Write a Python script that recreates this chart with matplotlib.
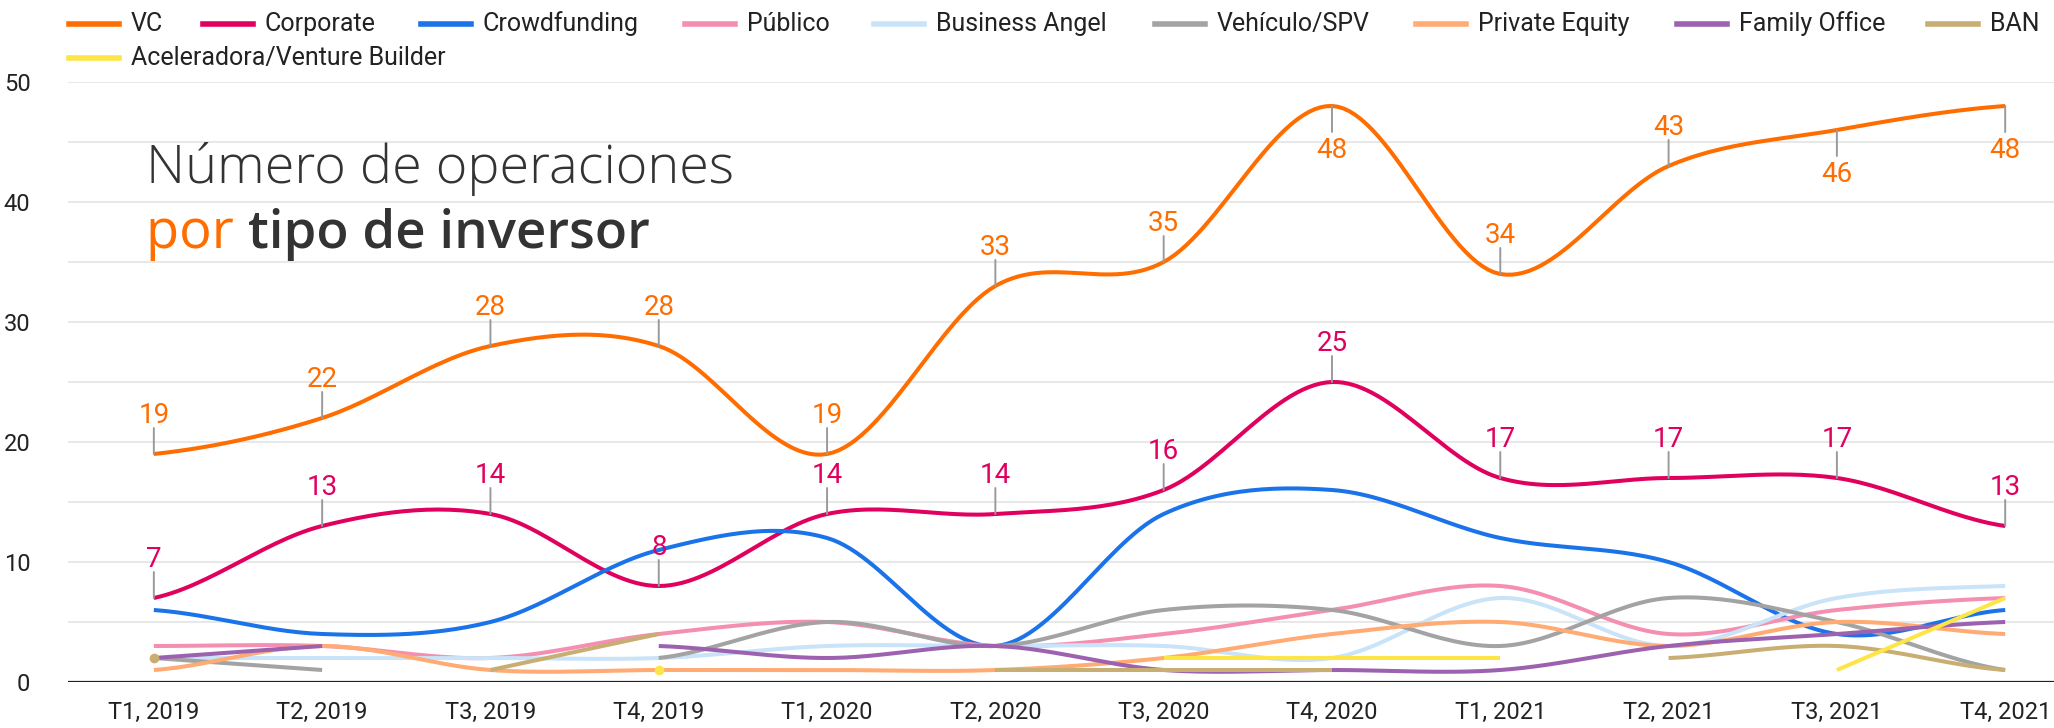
import matplotlib
matplotlib.use('Agg')
import matplotlib.pyplot as plt
from matplotlib.lines import Line2D
import numpy as np

nan = np.nan

quarters = ['T1, 2019', 'T2, 2019', 'T3, 2019', 'T4, 2019',
            'T1, 2020', 'T2, 2020', 'T3, 2020', 'T4, 2020',
            'T1, 2021', 'T2, 2021', 'T3, 2021', 'T4, 2021']

vc = [19, 22, 28, 28, 19, 33, 35, 48, 34, 43, 46, 48]
corporate = [7, 13, 14, 8, 14, 14, 16, 25, 17, 17, 17, 13]
crowdfunding = [6, 4, 5, 11, 12, 3, 14, 16, 12, 10, 4, 6]
publico = [3, 3, 2, 4, 5, 3, 4, 6, 8, 4, 6, 7]
business_angel = [2, 2, 2, 2, 3, 3, 3, 2, 7, 3, 7, 8]
vehiculo = [2, 1, nan, 2, 5, 3, 6, 6, 3, 7, 5, 1]
private_equity = [1, 3, 1, 1, 1, 1, 2, 4, 5, 3, 5, 4]
family_office = [2, 3, nan, 3, 2, 3, 1, 1, 1, 3, 4, 5]
ban = [2, nan, 1, 4, nan, 1, 1, 1, nan, 2, 3, 1]
aceleradora = [nan, nan, nan, 1, nan, nan, 2, 2, 2, nan, 1, 7]

names = ['VC', 'Corporate', 'Crowdfunding', 'Público', 'Business Angel',
         'Vehículo/SPV', 'Private Equity', 'Family Office', 'BAN',
         'Aceleradora/Venture Builder']
colors = ['#ff6d00', '#e0005e', '#1a73e8', '#f48fb1', '#c9e3f8',
          '#a3a3a3', '#ffab73', '#9c62b0', '#c9ae74', '#fde547']
values = [vc, corporate, crowdfunding, publico, business_angel,
          vehiculo, private_equity, family_office, ban, aceleradora]
labelled = ['VC', 'Corporate']

W, H = 2054, 728
FONT = 'Roboto'
plt.rcParams['font.family'] = [FONT, 'DejaVu Sans']


def smooth(xs, ys, n=30):
    # curva tipo Catmull-Rom entre puntos consecutivos
    xs = np.asarray(xs, float)
    ys = np.asarray(ys, float)
    m = len(ys)
    t = np.zeros(m)
    for i in range(m):
        if i == 0:
            t[i] = (ys[1] - ys[0]) / 2
        elif i == m - 1:
            t[i] = (ys[-1] - ys[-2]) / 2
        else:
            t[i] = (ys[i + 1] - ys[i - 1]) / 2
    ox, oy = [], []
    for i in range(m - 1):
        s = np.linspace(0, 1, n)
        h00 = 2 * s**3 - 3 * s**2 + 1
        h10 = s**3 - 2 * s**2 + s
        h01 = -2 * s**3 + 3 * s**2
        h11 = s**3 - s**2
        oy.extend(h00 * ys[i] + h10 * t[i] + h01 * ys[i + 1] + h11 * t[i + 1])
        ox.extend(xs[i] + s * (xs[i + 1] - xs[i]))
    return ox, oy


def segments(ys):
    segs, cur = [], []
    for i, v in enumerate(ys):
        if np.isnan(v):
            if cur:
                segs.append(cur)
            cur = []
        else:
            cur.append(i)
    if cur:
        segs.append(cur)
    return segs


fig = plt.figure(figsize=(W / 100, H / 100), dpi=100)
left, right, y0, y50 = 68, 2054, 682, 82
ax = fig.add_axes([left / W, (H - y0) / H, (right - left) / W, (y0 - y50) / H])
ax.set_xlim(-0.51, 11.29)
ax.set_ylim(0, 50)

for v in range(5, 50, 5):
    ax.axhline(v, color='#e8e8e8', lw=1.5, zorder=0)
ax.axhline(50, color='#e8e8e8', lw=1.5, zorder=0)
ax.axhline(0, color='#222222', lw=1.6, zorder=5)

for name, ys, c in zip(names, values, colors):
    ys = np.array(ys, float)
    for seg in segments(ys):
        if len(seg) == 1:
            ax.plot(seg, ys[seg], 'o', color=c, ms=6, zorder=3)
        elif len(seg) == 2:
            ax.plot(seg, ys[seg], color=c, lw=2.9, zorder=3,
                    solid_capstyle='butt')
        else:
            sx, sy = smooth(seg, ys[seg])
            ax.plot(sx, sy, color=c, lw=2.9, zorder=3, solid_capstyle='butt')
    if name in labelled:
        for i, v in enumerate(ys):
            below = v >= 45
            d = -1 if below else 1
            ax.annotate('', xy=(i, v), xytext=(0, d * 26 * 0.72),
                        textcoords='offset points',
                        arrowprops=dict(arrowstyle='-', color='#9a9a9a',
                                        lw=1.4, shrinkA=0, shrinkB=0),
                        zorder=4)
            ax.annotate(str(int(v)), xy=(i, v), xytext=(0, d * 31 * 0.72),
                        textcoords='offset points', ha='center',
                        va='top' if below else 'baseline',
                        color=c, fontsize=20, zorder=6)

for s in ax.spines.values():
    s.set_visible(False)
ax.set_xticks(range(len(quarters)))
ax.set_xticklabels(quarters, fontsize=17, color='#222222')
ax.set_yticks(range(0, 51, 10))
ax.tick_params(axis='y', labelsize=17, labelcolor='#222222', length=0, pad=27)
ax.tick_params(axis='x', length=0, pad=14)

# leyenda (inicio del texto de cada entrada, en px)
leg_x = [131, 265, 483, 747, 936, 1217, 1478, 1739, 1990, 131]
leg_y = [24, 24, 24, 24, 24, 24, 24, 24, 24, 58]
for name, c, lx, ly in zip(names, colors, leg_x, leg_y):
    fy = (H - ly) / H
    fig.add_artist(Line2D([(lx - 62) / W, (lx - 12) / W], [fy, fy], color=c,
                          lw=4, transform=fig.transFigure))
    fig.text(lx / W, fy, name, fontsize=18, color='#222222',
             va='center', ha='left')

# titulo
TITLE_FONT = ['Open Sans', 'DejaVu Sans']
fig.text(146 / W, (H - 183) / H, 'Número de operaciones', fontsize=39,
         family=TITLE_FONT, fontweight='light', color='#333333',
         va='baseline')
t1 = fig.text(146 / W, (H - 248) / H, 'por ', fontsize=39, family=TITLE_FONT,
              color='#ff6d00', va='baseline')
fig.canvas.draw()
bb = t1.get_window_extent()
fig.text(bb.x1 / W, (H - 248) / H, 'tipo de inversor', fontsize=38,
         family=TITLE_FONT, fontweight='semibold', color='#333333',
         va='baseline')

fig.savefig('out.png', dpi=100)
